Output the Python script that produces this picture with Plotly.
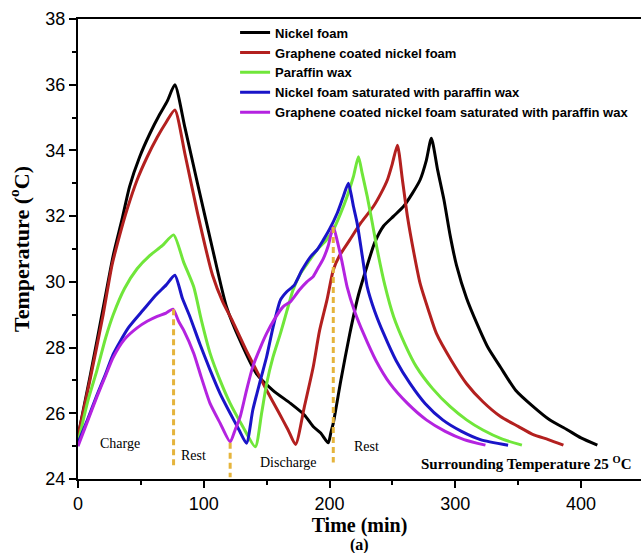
import plotly.graph_objects as go

# Time (min) / temperature (°C) readings for each sample
nf_t = [0, 10, 20, 28, 35, 41, 49, 57, 65, 71, 77,
        85, 95, 107, 118, 129, 142, 155, 169, 180, 187, 193, 199,
        201, 203, 209, 216, 223, 230, 236, 243, 251, 259, 266, 272, 277, 281,
        286, 291, 296, 301, 309, 317, 326, 336, 348, 362, 375, 389, 400, 413]
nf_T = [25.3, 27.2, 29.2, 30.8, 31.9, 32.9, 33.8, 34.5, 35.1, 35.5, 36.0,
        34.7, 33.0, 31.0, 29.25, 28.2, 27.2, 26.7, 26.3, 25.95, 25.6, 25.4, 25.1,
        25.4, 25.7, 27.0, 28.4, 29.6, 30.5, 31.2, 31.7, 32.0, 32.3, 32.7, 33.1, 33.7, 34.37,
        33.4, 32.5, 31.4, 30.5, 29.5, 28.75, 28.0, 27.4, 26.7, 26.2, 25.8, 25.5, 25.25, 25.03]

gnf_t = [0, 10, 20, 27, 33, 39, 47, 55, 63, 70, 77,
         85, 95, 107, 115, 123, 134, 142, 150, 160, 167, 173,
         180, 187, 192, 198, 203, 208, 216, 225, 235, 241, 246, 250, 254,
         258, 262, 267, 272, 279, 285, 297, 309, 322, 336, 350, 362, 374, 386]
gnf_T = [25.3, 27.1, 29.0, 30.5, 31.4, 32.2, 33.1, 33.8, 34.4, 34.85, 35.23,
         33.9, 32.1, 30.2, 29.4, 28.8, 27.9, 27.3, 26.7, 26.0, 25.5, 25.05,
         26.2, 27.4, 28.5, 29.45, 30.36, 30.8, 31.27, 31.8, 32.3, 32.7, 33.1, 33.6, 34.16,
         33.1, 31.98, 30.9, 29.96, 29.1, 28.43, 27.6, 26.9, 26.35, 25.9, 25.6, 25.35, 25.2, 25.03]

pw_t = [0, 8, 15, 22, 28, 37, 47, 57, 67, 76,
        84, 92, 98, 105, 113, 121, 131, 141,
        146, 150, 155, 161, 166, 171, 177, 184, 190, 197, 203, 209, 214, 219, 223,
        226, 230, 234, 238, 244, 251, 260, 269, 282, 296, 309, 322, 337, 353]
pw_T = [25.1, 26.4, 27.3, 28.3, 29.0, 29.8, 30.4, 30.8, 31.1, 31.43,
        30.6, 29.85, 28.85, 27.83, 27.0, 26.3, 25.6, 24.98,
        26.0, 26.9, 27.7, 28.43, 29.1, 29.75, 30.26, 30.65, 30.97, 31.25, 31.58, 32.1, 32.6, 33.2, 33.81,
        33.3, 32.6, 31.8, 30.97, 29.9, 28.94, 28.1, 27.42, 26.75, 26.2, 25.8, 25.49, 25.22, 25.03]

nfp_t = [0, 8, 15, 22, 28, 40, 52, 62, 70, 77,
         83, 89, 97, 105, 113, 121, 128, 134,
         139, 145, 150, 155, 161, 166, 172, 178, 185, 190, 195, 200, 206, 211, 215,
         219, 222, 226, 230, 236, 243, 253, 264, 276, 290, 305, 320, 342]
nfp_T = [25.1, 25.85, 26.55, 27.2, 27.8, 28.6, 29.15, 29.6, 29.9, 30.2,
         29.5, 28.94, 28.1, 27.32, 26.6, 26.0, 25.5, 25.09,
         26.1, 27.0, 27.72, 28.6, 29.45, 29.7, 29.9, 30.35, 30.77, 30.97, 31.27, 31.6, 32.08, 32.6, 33.0,
         32.3, 31.78, 30.8, 29.85, 29.1, 28.43, 27.6, 26.91, 26.3, 25.8, 25.45, 25.2, 25.03]

gnfp_t = [0, 8, 15, 22, 28, 37, 47, 55, 63, 70, 75.5,
          80, 84, 92, 98, 105, 113, 121,
          125, 129, 134, 139, 145, 150, 156, 163, 169, 176, 182, 187, 190, 195, 199, 203,
          206, 210, 214, 220, 227, 237, 248, 262, 277, 292, 307, 324]
gnfp_T = [25.0, 25.8, 26.5, 27.15, 27.7, 28.25, 28.6, 28.8, 28.95, 29.05, 29.17,
          28.8, 28.53, 27.83, 27.1, 26.3, 25.7, 25.13,
          25.5, 25.9, 26.7, 27.42, 28.0, 28.43, 28.85, 29.24, 29.4, 29.75, 30.0, 30.16, 30.36, 30.7, 31.1, 31.68,
          31.27, 30.6, 29.85, 29.1, 28.43, 27.6, 26.91, 26.3, 25.8, 25.45, 25.2, 25.03]

series = [
    ("Nickel foam", nf_t, nf_T, "#000000"),
    ("Graphene coated nickel foam", gnf_t, gnf_T, "#B3201F"),
    ("Paraffin wax", pw_t, pw_T, "#70E63A"),
    ("Nickel foam saturated with paraffin wax", nfp_t, nfp_T, "#1A14C8"),
    ("Graphene coated nickel foam saturated with paraffin wax", gnfp_t, gnfp_T, "#B423E0"),
]

# Phase boundaries (dashed markers): time and vertical extent
phase_t = [76, 121, 203]
phase_top = [29.17, 25.1, 31.67]
phase_bottom = [24.4, 24.05, 24.5]

# Phase labels
phase_labels = ["Charge", "Rest", "Discharge", "Rest"]
phase_label_t = [33.4, 91.7, 167.3, 229.5]
phase_label_T = [25.07, 24.73, 24.5, 24.98]

fig = go.Figure()

for name, t, T, color in series:
    fig.add_trace(go.Scatter(x=t, y=T, mode="lines", name=name,
                             line=dict(color=color, width=3, shape="spline", smoothing=0.6)))

for pt, top, bot in zip(phase_t, phase_top, phase_bottom):
    fig.add_trace(go.Scatter(x=[pt, pt], y=[top, bot], mode="lines",
                             showlegend=False, hoverinfo="skip",
                             line=dict(color="#E5B43C", width=3, dash="6px,4px")))

serif = "Liberation Serif, Times New Roman, serif"
sans = "Liberation Sans, Arial, sans-serif"

for txt, xt, yt in zip(phase_labels, phase_label_t, phase_label_T):
    fig.add_annotation(x=xt, y=yt, xref="x", yref="y", text=txt, showarrow=False,
                       font=dict(family=serif, size=14, color="black"))

fig.add_annotation(x=356.4, y=24.49, xref="x", yref="y",
                   text="Surrounding Temperature 25 <sup>O</sup>C", showarrow=False,
                   font=dict(family=serif, size=15, color="black", weight="bold"))

fig.add_annotation(x=0.5, y=-0.143, xref="paper", yref="paper", yanchor="middle", text="(a)",
                   showarrow=False, font=dict(family=serif, size=16, color="black", weight="bold"))

fig.update_layout(
    width=641, height=553,
    margin=dict(l=78, r=0, t=19, b=74, autoexpand=False),
    paper_bgcolor="white", plot_bgcolor="white",
    legend=dict(x=0.279, y=1.003, xanchor="left", yanchor="top",
                bgcolor="rgba(0,0,0,0)", tracegroupgap=0,
                font=dict(family=sans, size=13, color="black", weight="bold")),
)

fig.update_xaxes(
    range=[0, 447.7], showgrid=False, zeroline=False,
    showline=True, linecolor="black", linewidth=2, mirror=True,
    ticks="outside", ticklen=7, tickwidth=2, tickcolor="black", dtick=100, tick0=0,
    minor=dict(ticks="outside", ticklen=4, tickwidth=1.5, tickcolor="black", dtick=50),
    tickfont=dict(family=sans, size=18, color="black"),
    title=dict(text="Time (min)", font=dict(family=serif, size=20, color="black", weight="bold"),
               standoff=0),
)
fig.update_yaxes(
    range=[24, 38], showgrid=False, zeroline=False,
    showline=True, linecolor="black", linewidth=2,
    ticks="outside", ticklen=7, tickwidth=2, tickcolor="black", dtick=2, tick0=24,
    minor=dict(ticks="outside", ticklen=4, tickwidth=1.5, tickcolor="black", dtick=1),
    tickfont=dict(family=sans, size=18, color="black"),
    title=dict(text="Temperature (<sup>o</sup>C)",
               font=dict(family=serif, size=22, color="black", weight="bold"), standoff=10),
)

fig.write_html("out.html")
